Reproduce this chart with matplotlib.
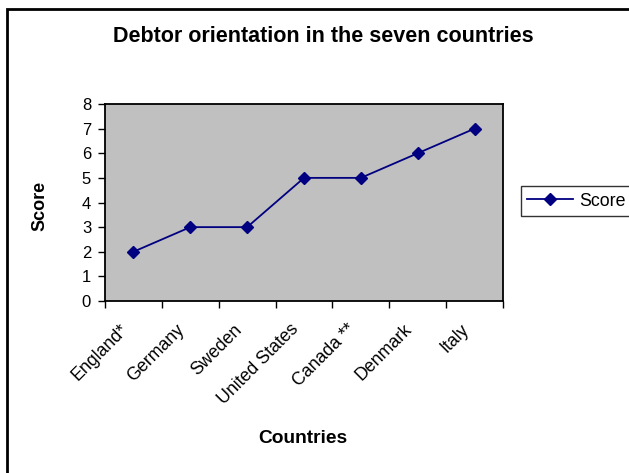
import matplotlib
matplotlib.use("Agg")
import matplotlib.pyplot as plt
from matplotlib.patches import Rectangle
from matplotlib.transforms import ScaledTranslation
import numpy as np

categories = ["England*", "Germany", "Sweden", "United States", "Canada **", "Denmark", "Italy"]
scores = [2, 3, 3, 5, 5, 6, 7]
yticks = [0, 1, 2, 3, 4, 5, 6, 7, 8]

plt.rcParams['font.family'] = ['Liberation Sans', 'DejaVu Sans']

W, H = 629, 473
DPI = 100
fig = plt.figure(figsize=(W/DPI, H/DPI), dpi=DPI)
fig.patch.set_facecolor('white')

# outer chart border (extends past right/bottom edges)
fig.patches.append(Rectangle((7/W, -0.05), 1.1, 1 - 9/H + 0.05, transform=fig.transFigure,
                             fill=False, edgecolor='black', linewidth=2, zorder=0))

left, right, bottom, top = 105/W, 503/W, 1 - 301/H, 1 - 104/H
ax = fig.add_axes([left, bottom, right - left, top - bottom])
ax.set_facecolor('#C0C0C0')

x = np.arange(len(categories))
line, = ax.plot(x, scores, color='#000080', linewidth=1.3, marker='D', markersize=6.5,
                markerfacecolor='#000080', markeredgecolor='#000080', label='Score', clip_on=False)

ax.set_xlim(-0.5, len(categories) - 0.5)
ax.set_ylim(0, 8)
ax.set_yticks(yticks)
ax.set_yticklabels([str(v) for v in yticks], fontsize=12)
ax.set_xticks(np.arange(len(categories) + 1) - 0.5)
ax.set_xticklabels([])
ax.tick_params(axis='x', which='major', direction='out', length=5, width=1)
ax.tick_params(axis='y', direction='out', length=5, width=1, pad=5)

off = ScaledTranslation(-8/DPI, -26/DPI, fig.dpi_scale_trans)
for xi, lab in zip(x, categories):
    ax.text(xi, 0, lab, transform=ax.get_xaxis_transform() + off, rotation=45,
            rotation_mode='anchor', ha='right', va='center', fontsize=12.8, clip_on=False)

for s in ax.spines.values():
    s.set_color('black')
    s.set_linewidth(1.3)

fig.text(323/W, 1 - 37/H, "Debtor orientation in the seven countries", ha='center', va='center',
         fontsize=15.5, fontweight='bold')
fig.text(303/W, 1 - 438/H, "Countries", ha='center', va='center', fontsize=13.8, fontweight='bold')
fig.text(40/W, 1 - 206/H, "Score", ha='center', va='center', rotation=90, fontsize=13, fontweight='bold')

leg = fig.legend(handles=[line], loc='center left', bbox_to_anchor=(521/W, 1 - 201/H),
                 frameon=True, fancybox=False, edgecolor='black', fontsize=12.8,
                 handlelength=2.6, handletextpad=0.3, borderpad=0.35, borderaxespad=0)
leg.get_frame().set_linewidth(1)

fig.savefig("out.png", dpi=DPI, facecolor='white')
